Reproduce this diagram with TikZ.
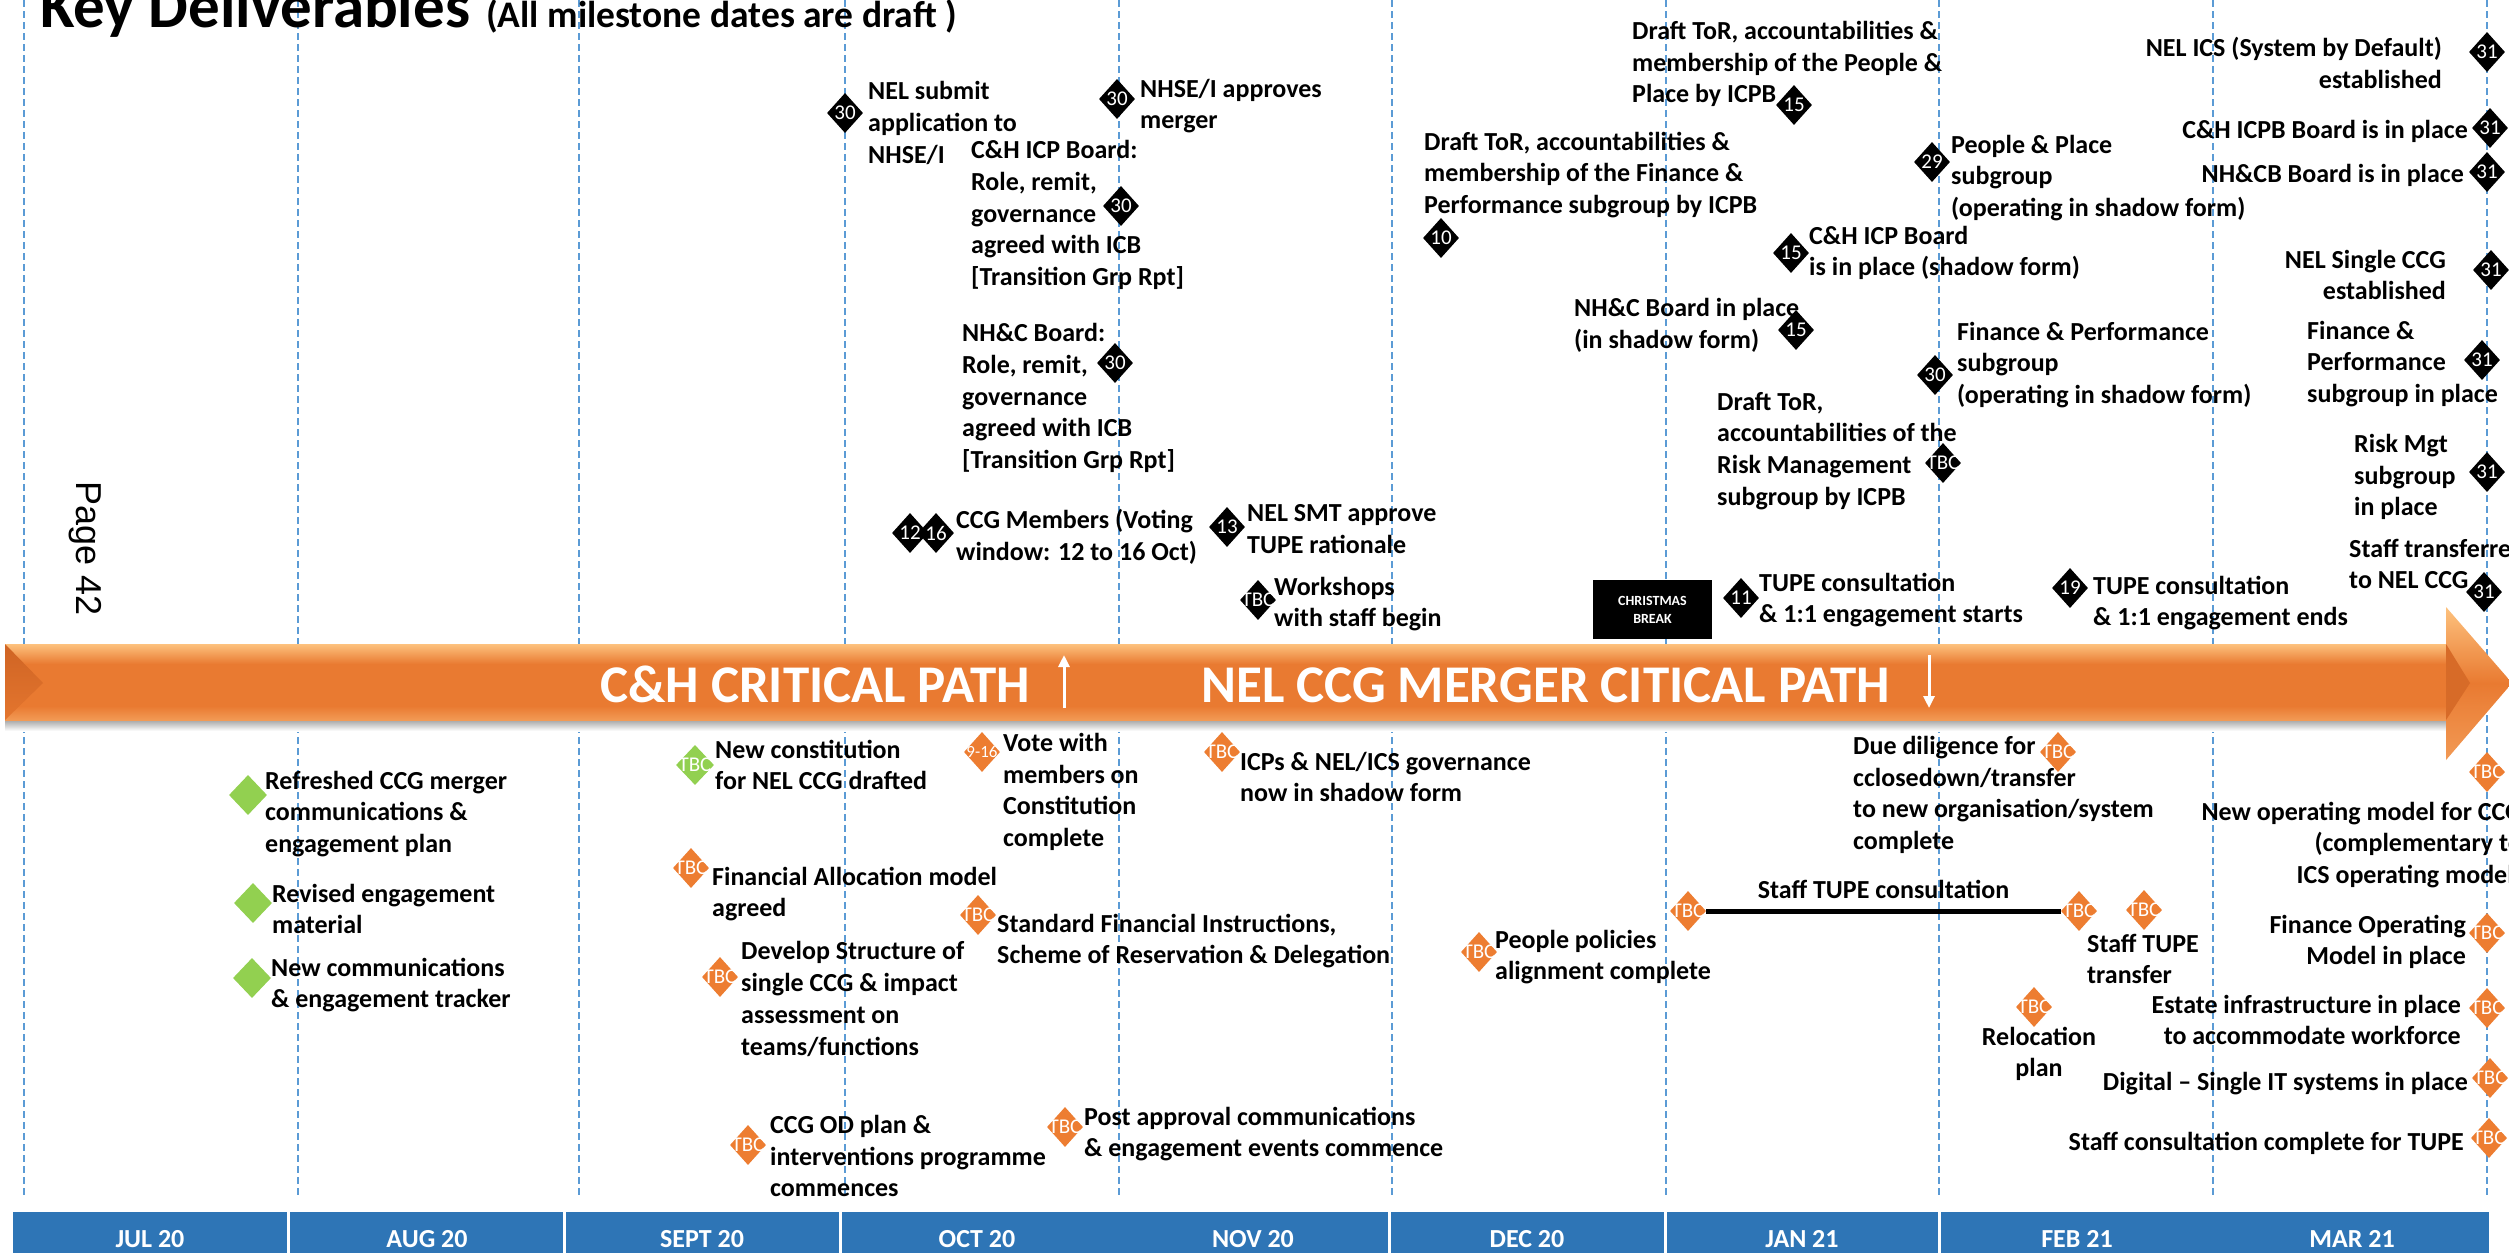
\documentclass[tikz,border=0pt]{standalone}
\usepackage{fontspec}
\setmainfont{Carlito}
\newfontfamily\arialf{Liberation Sans}
\usetikzlibrary{shapes.geometric,arrows.meta}
\definecolor{orng}{HTML}{ED7D31}
\definecolor{grn}{HTML}{92D050}
\definecolor{blu}{HTML}{2E75B6}
\definecolor{gridcol}{HTML}{5B9BD5}
\definecolor{barbase}{HTML}{E97A31}
\definecolor{barlight}{HTML}{FDC27E}
\definecolor{barlow}{HTML}{F29A55}
\definecolor{bevel}{HTML}{CF6424}
\tikzset{
  mk/.style={diamond, minimum width=36pt, minimum height=40pt, inner sep=0pt, fill=black,
     label={[font=\fontsize{21}{21}\selectfont, text=white, inner sep=0pt]center:{#1}}},
  mo/.style={mk={#1}, fill=orng},
  mg/.style={mk={#1}, fill=grn, minimum width=38pt},
  tl/.style={anchor=west, align=left, inner sep=0pt, yshift=-3pt, font=\fontsize{26}{31.7}\selectfont\bfseries},
  tr/.style={tl, anchor=east, align=right},
  tc/.style={tl, anchor=center, align=center},
  month/.style={anchor=base, inner sep=0pt, text=white, font=\fontsize{26}{26}\selectfont\bfseries},
  gridln/.style={gridcol, line width=1.3pt, dash pattern=on 7pt off 4pt},
  bartext/.style={anchor=base west, inner sep=0pt, text=white, font=\fontsize{53}{53}\selectfont\bfseries},
}
\begin{document}
\begin{tikzpicture}[x=1pt,y=-1pt]
\useasboundingbox (0,0) rectangle (2509,1253);
\clip (0,0) rectangle (2509,1253);
\fill[white] (0,0) rectangle (2509,1253);
% grid lines
\foreach \x in {24,298,579,845,1119,1392,1666,1939,2213,2487}
  \draw[gridln] (\x,0) -- (\x,1198);
% title
\node[anchor=base west, inner sep=0pt] (title) at (40,27)
  {{\fontsize{63}{66}\selectfont\bfseries Key Deliverables}\hspace{16pt}{\fontsize{37.5}{40}\selectfont\bfseries (All milestone dates are draft )}};
\node[font=\arialf\fontsize{36}{36}\selectfont, rotate=-90, inner sep=0pt] (pg) at (85,549) {Page 42};
% orange bar
\shade[top color=black!35, bottom color=white] (5,720) rectangle (2446,731);
\fill[barbase] (5,644) rectangle (2448,720);
\shade[top color=barlight, bottom color=barbase] (5,644) rectangle (2448,664);
\shade[top color=barbase, bottom color=barlow] (5,706) rectangle (2448,720);
\shade[top color=bevel, bottom color=barbase!80!bevel] (5,644) -- (43,683) -- (5,720) -- cycle;
\shade[top color=barlight, bottom color=barbase] (2446,607) -- (2512,683) -- (2446,683) -- cycle;
\shade[top color=barbase, bottom color=barlow] (2446,683) -- (2512,683) -- (2446,760) -- cycle;
\fill[bevel!70!barbase] (2446,644) -- (2470,683) -- (2446,720) -- cycle;
\node[bartext] (ch) at (600,702) {C\&H CRITICAL PATH};
\node[bartext] (nel) at (1201,702) {NEL CCG MERGER CITICAL PATH};
\draw[white, line width=3pt, -{Triangle[width=11pt,length=12pt]}] (1064,708) -- (1064,655);
\draw[white, line width=3pt, -{Triangle[width=11pt,length=12pt]}] (1929,655) -- (1929,708);
% month bar
\foreach \a/\b in {13/287,290/563,566/839,842/1388,1391/1664,1667/1938,1941/2489}
  \fill[blu] (\a,1212) rectangle (\b,1260);
\node[month] (m1) at (150,1247) {JUL 20};
\node[month] (m2) at (427,1247) {AUG 20};
\node[month] (m3) at (702,1247) {SEPT 20};
\node[month] (m4) at (977,1247) {OCT 20};
\node[month] (m5) at (1253,1247) {NOV 20};
\node[month] (m6) at (1527,1247) {DEC 20};
\node[month] (m7) at (1802,1247) {JAN 21};
\node[month] (m8) at (2077,1247) {FEB 21};
\node[month] (m9) at (2352,1247) {MAR 21};
% ---------- above bar ----------
\node[tl] (a1) at (868,120) {NEL submit\\application to\\NHSE/I};
\node[mk=30] (d1) at (845,113) {};
\node[tl] (a2) at (1140,103) {NHSE/I approves\\merger};
\node[mk=30] (d2) at (1117,99) {};
\node[tl] (a3) at (971,212) {C\&H ICP Board:\\Role, remit,\\governance\\agreed with ICB\\{[Transition Grp Rpt]}};
\node[mk=30] (d3) at (1121,206) {};
\node[tl] (a4) at (962,395) {NH\&C Board:\\Role, remit,\\governance\\agreed with ICB\\{[Transition Grp Rpt]}};
\node[mk=30] (d4) at (1115,363) {};
\node[mk=12] (d5a) at (910,533) {};
\node[mk=16] (d5b) at (936,533) {};
\node[tl] (a5) at (956,534) {CCG Members (Voting\\window: 12 to 16 Oct)};
\node[mk=13] (d6) at (1227,527) {};
\node[tl] (a6) at (1247,526) {NEL SMT approve\\TUPE rationale};
\node[mk=TBC] (d7) at (1258,600) {};
\node[tl] (a7) at (1274,601) {Workshops\\with staff begin};
\node[fill=black, minimum width=119pt, minimum height=59pt, inner sep=0pt, align=center, text=white,
  font=\fontsize{14}{18}\selectfont\bfseries] (xmas) at (1652.5,609.5) {CHRISTMAS\\BREAK};
\node[tl] (a9) at (1424,172) {Draft ToR, accountabilities \&\\membership of the Finance \&\\Performance subgroup by ICPB};
\node[mk=10] (d9) at (1441,238) {};
\node[tl] (a10) at (1632,61) {Draft ToR, accountabilities \&\\membership of the People \&\\Place by ICPB};
\node[mk=15] (d10) at (1794,105) {};
\node[tl] (a11) at (1951,175) {People \& Place\\subgroup\\(operating in shadow form)};
\node[mk=29] (d11) at (1932,162) {};
\node[tl] (a12) at (1809,250) {C\&H ICP Board\\is in place (shadow form)};
\node[mk=15] (d12) at (1791,253) {};
\node[tl] (a13) at (1574,322) {NH\&C Board in place\\(in shadow form)};
\node[mk=15] (d13) at (1796,330) {};
\node[tl] (a14) at (1957,362) {Finance \& Performance\\subgroup\\(operating in shadow form)};
\node[mk=30] (d14) at (1935,375) {};
\node[tl] (a15) at (1717,448) {Draft ToR,\\accountabilities of the\\Risk Management\\subgroup by ICPB};
\node[mk=TBC] (d15) at (1943,463) {};
\node[tl] (a16) at (1759,597) {TUPE consultation\\\& 1:1 engagement starts};
\node[mk=11] (d16) at (1741,598) {};
\node[tl] (a17) at (2093,600) {TUPE consultation\\\& 1:1 engagement ends};
\node[mk=19] (d17) at (2070,588) {};
\node[tr] (a18) at (2442,60) {NEL ICS (System by Default)\\established};
\node[mk=31] (d18) at (2487,52) {};
\node[tr] (a19) at (2468,128) {C\&H ICPB Board is in place};
\node[mk=31] (d19) at (2490,128) {};
\node[tr] (a20) at (2464,172) {NH\&CB Board is in place};
\node[mk=31] (d20) at (2487,172) {};
\node[tr] (a21) at (2446,272) {NEL Single CCG\\established};
\node[mk=31] (d21) at (2491,270) {};
\node[tl] (a22) at (2307,361) {Finance \&\\Performance\\subgroup in place};
\node[mk=31] (d22) at (2482,360) {};
\node[tl] (a23) at (2354,474) {Risk Mgt\\subgroup\\in place};
\node[mk=31] (d23) at (2487,472) {};
\node[tl] (a24) at (2349,561) {Staff transferred\\to NEL CCG};
\node[mk=31] (d24) at (2484,592) {};
% ---------- below bar ----------
\node[mg={}] (g1) at (248,795) {};
\node[tl] (b1) at (265,811) {Refreshed CCG merger\\communications \&\\engagement plan};
\node[mg={}] (g2) at (253,903) {};
\node[tl] (b2) at (272,906) {Revised engagement\\material};
\node[mg={}] (g3) at (252,978) {};
\node[tl] (b3) at (271,982) {New communications\\\& engagement tracker};
\node[mg=TBC] (g4) at (695,765) {};
\node[tl] (b4) at (715,762) {New constitution\\for NEL CCG drafted};
\node[diamond, minimum width=36pt, minimum height=40pt, inner sep=0pt, fill=orng,
  label={[font=\fontsize{17}{17}\selectfont, text=white, inner sep=0pt]center:{9-16}}] (o5) at (982,752) {};
\node[tl] (b5) at (1003,789) {Vote with\\members on\\Constitution\\complete};
\node[mo=TBC] (o6) at (1222,752) {};
\node[tl] (b6) at (1240,774) {ICPs \& NEL/ICS governance\\now in shadow form};
\node[mo=TBC] (o7) at (691,868) {};
\node[tl] (b7) at (712,891) {Financial Allocation model\\agreed};
\node[mo=TBC] (o8) at (720,977) {};
\node[tl] (b8) at (741,996) {Develop Structure of\\single CCG \& impact\\assessment on\\teams/functions};
\node[mo=TBC] (o9) at (748,1145) {};
\node[tl] (b9) at (770,1153) {CCG OD plan \&\\interventions programme\\commences};
\node[mo=TBC] (o10) at (978,915) {};
\node[tl] (b10) at (997,938) {Standard Financial Instructions,\\Scheme of Reservation \& Delegation};
\node[mo=TBC] (o11) at (1065,1127) {};
\node[tl] (b11) at (1084,1131) {Post approval communications\\\& engagement events commence};
\node[mo=TBC] (o12) at (1479,952) {};
\node[tl] (b12) at (1495,954) {People policies\\alignment complete};
\node[mo=TBC] (o13a) at (1688,911) {};
\node[mo=TBC] (o13b) at (2079,911) {};
\draw[line width=5pt] (o13a.east) -- node[above=10pt, inner sep=0pt, font=\fontsize{26}{31.7}\selectfont\bfseries] (b13) {Staff TUPE consultation} (o13b.west);
\node[mo=TBC] (o14) at (2144,910) {};
\node[tl] (b14) at (2087,956) {Staff TUPE\\transfer};
\node[mo=TBC] (o15) at (2034,1007) {};
\node[tc] (b15) at (2039,1051) {Relocation\\plan};
\node[mo=TBC] (o16) at (2058,752) {};
\node[tl] (b16) at (1853,792) {Due diligence for\\cclosedown/transfer\\to new organisation/system\\complete};
\node[tr] (b17) at (2522,842) {New operating model for CCG\\(complementary to\\ICS operating model)};
\node[mo=TBC] (o17) at (2487,772) {};
\node[tr] (b18) at (2466,939) {Finance Operating\\Model in place};
\node[mo=TBC] (o18) at (2487,933) {};
\node[tr] (b19) at (2461,1017) {Estate infrastructure in place\\to accommodate workforce};
\node[mo=TBC] (o19) at (2487,1008) {};
\node[tr] (b20) at (2468,1081) {Digital – Single IT systems in place};
\node[mo=TBC] (o20) at (2490,1078) {};
\node[tr] (b21) at (2464,1140) {Staff consultation complete for TUPE};
\node[mo=TBC] (o21) at (2489,1138) {};
\end{tikzpicture}
\end{document}
